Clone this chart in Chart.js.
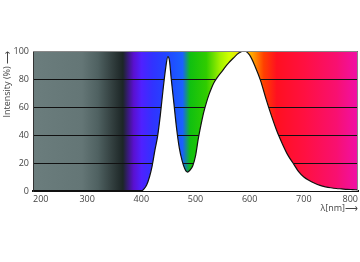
<!DOCTYPE html>
<html>
<head>
<meta charset="utf-8">
<script src="https://cdn.jsdelivr.net/npm/chart.js@4/dist/chart.umd.min.js"></script>
<style>
  body { margin: 0; background: #fff; }
</style>
</head>
<body>
<canvas id="chart" width="360" height="262"></canvas>
<script>
// wavelength (nm) and relative intensity (%)
const lambda = [200, 300, 400, 405, 410, 415, 420, 425, 430, 435, 440, 445, 449, 452, 455, 460, 465, 470, 475, 480, 485,
  490, 495, 500, 505, 510, 515, 520, 525, 530, 535, 540, 550, 560, 570, 580, 590, 600, 610, 620, 630, 640, 650,
  660, 670, 680, 690, 700, 710, 720, 730, 740, 750, 760, 770, 780, 790, 800];
const intensity = [0, 0, 0, 1.5, 4.5, 10, 18, 29, 39, 54, 72, 88, 96, 93, 81, 63, 45, 31, 22, 16, 13.5,
  15, 18, 25, 37, 47, 56, 63, 69, 74, 78, 81, 86, 91, 95, 98.5, 100, 97, 89, 79, 66, 54, 43,
  34, 26, 20, 14, 10, 7.5, 5.5, 4, 3, 2.3, 1.8, 1.5, 1.2, 1, 0.8];

const xTicks = [200, 300, 400, 500, 600, 700, 800];
const yTicks = [0, 20, 40, 60, 80, 100];

// background spectrum: [wavelength, colour]
const spectrumStops = [
  [200, '#6b7d7d'], [290, '#647676'], [320, '#4f6161'], [350, '#2e3a3a'], [366, '#1c2626'],
  [376, '#3a1a80'], [386, '#5a10d0'], [400, '#5020ff'], [420, '#3232ff'], [445, '#2244ff'],
  [476, '#1a60ff'], [490, '#10c010'], [520, '#30cc00'], [545, '#a0f000'], [562, '#d0ff00'],
  [590, '#ffd000'], [606, '#ffa000'], [626, '#ff4000'], [650, '#ff1020'], [700, '#ff1040'],
  [760, '#f81070'], [800, '#f010a8']
];

const points = lambda.map((l, i) => ({ x: l, y: intensity[i] }));

const spectrumBg = {
  id: 'spectrumBg',
  beforeDraw(chart) {
    const { ctx, chartArea: a, scales } = chart;
    const x = scales.x;
    const g = ctx.createLinearGradient(a.left, 0, a.right, 0);
    spectrumStops.forEach(s => {
      const p = (x.getPixelForValue(s[0]) - a.left) / (a.right - a.left);
      g.addColorStop(Math.min(1, Math.max(0, p)), s[1]);
    });
    ctx.save();
    ctx.fillStyle = g;
    ctx.fillRect(a.left, a.top, a.right - a.left, a.bottom - a.top);
    ctx.restore();
  },
  afterDraw(chart) {
    const { ctx, chartArea: a } = chart;
    ctx.save();
    ctx.strokeStyle = '#888';
    ctx.lineWidth = 1;
    ctx.beginPath();
    ctx.moveTo(a.left, a.top + 0.5);
    ctx.lineTo(a.right - 0.5, a.top + 0.5);
    ctx.lineTo(a.right - 0.5, a.bottom);
    ctx.stroke();
    ctx.restore();
  }
};

const tickFont = { family: 'Open Sans', size: 9 };

new Chart(document.getElementById('chart').getContext('2d'), {
  type: 'line',
  data: {
    datasets: [{
      data: points,
      borderColor: '#111',
      borderWidth: 1.2,
      backgroundColor: '#ffffff',
      fill: 'origin',
      pointRadius: 0,
      cubicInterpolationMode: 'monotone'
    }]
  },
  options: {
    responsive: false,
    animation: false,
    layout: { padding: { left: 0, top: 51, right: 2, bottom: 47 } },
    plugins: { legend: { display: false }, tooltip: { enabled: false } },
    scales: {
      x: {
        type: 'linear',
        min: 200,
        max: 800,
        afterBuildTicks: s => { s.ticks = xTicks.map(v => ({ value: v })); },
        afterFit: s => { s.height = 24; s.paddingLeft = 0; s.paddingRight = 0; },
        grid: { display: false, drawTicks: false },
        border: { display: true, color: '#111', width: 2 },
        ticks: { color: '#444', font: tickFont, padding: 3, maxRotation: 0, align: 'inner' },
        title: {
          display: true, text: 'λ[nm]⟶', align: 'end', color: '#444',
          font: tickFont, padding: { top: 0, bottom: 1 }
        }
      },
      y: {
        min: 0,
        max: 100,
        afterBuildTicks: s => { s.ticks = yTicks.map(v => ({ value: v })); },
        afterFit: s => { s.width = 33; s.paddingTop = 0; s.paddingBottom = 0; },
        grid: { color: '#111', lineWidth: 1, drawTicks: false },
        border: { display: true, color: '#333', width: 1 },
        ticks: { color: '#444', font: tickFont, padding: 4 },
        title: {
          display: true, text: 'Intensity (%) ⟶', align: 'end', color: '#444',
          font: tickFont, padding: { top: 2, bottom: 0 }
        }
      }
    }
  },
  plugins: [spectrumBg]
});
</script>
</body>
</html>
